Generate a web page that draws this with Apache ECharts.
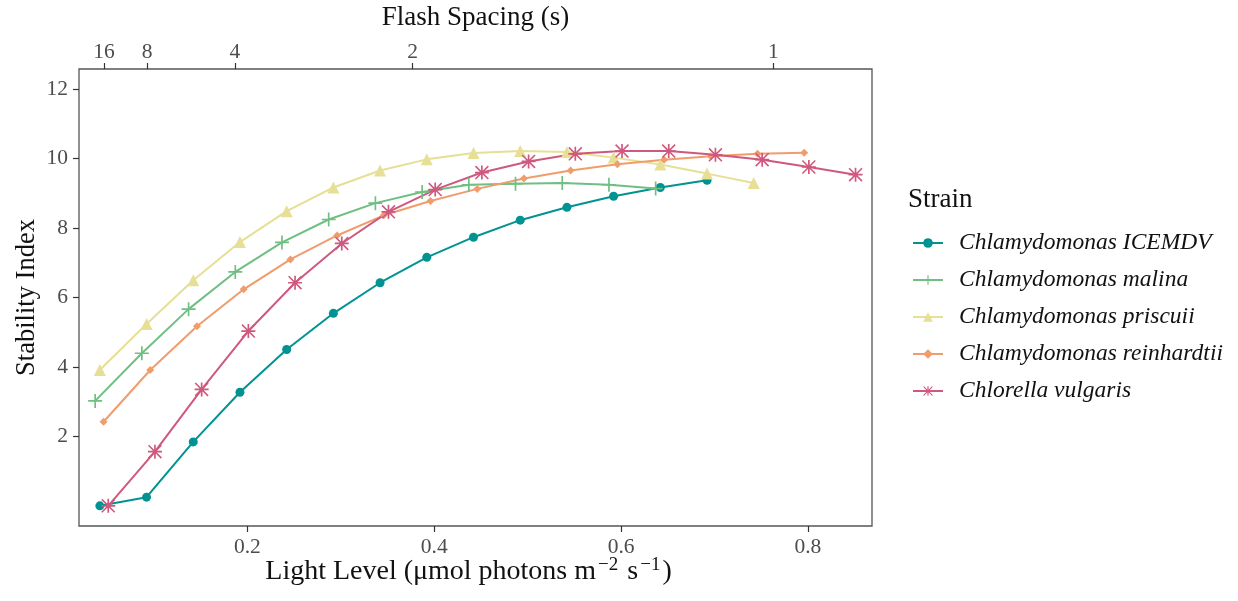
<!DOCTYPE html>
<html>
<head>
<meta charset="utf-8">
<script src="https://cdn.jsdelivr.net/npm/echarts@6/dist/echarts.min.js"></script>
<style>
  html, body { margin: 0; padding: 0; background: #fff; }
  #chart { width: 1238px; height: 601px; }
</style>
</head>
<body>
<div id="chart"></div>
<script>
// light levels (x) per strain, slightly dodged as in the original
const icemdvX = [0.042, 0.092, 0.142, 0.192, 0.242, 0.292, 0.342, 0.392, 0.442, 0.492, 0.542, 0.592, 0.642, 0.692];
const icemdvY = [0.01, 0.26, 1.85, 3.28, 4.51, 5.55, 6.43, 7.16, 7.74, 8.23, 8.60, 8.92, 9.17, 9.38];

const malinaX = [0.037, 0.087, 0.137, 0.187, 0.237, 0.287, 0.337, 0.387, 0.437, 0.487, 0.537, 0.587, 0.637];
const malinaY = [3.03, 4.40, 5.67, 6.74, 7.59, 8.25, 8.72, 9.04, 9.25, 9.28, 9.30, 9.25, 9.14];

const priscuiiX = [0.042, 0.092, 0.142, 0.192, 0.242, 0.292, 0.342, 0.392, 0.442, 0.492, 0.542, 0.592, 0.642, 0.692, 0.742];
const priscuiiY = [3.92, 5.24, 6.50, 7.60, 8.49, 9.17, 9.66, 9.98, 10.16, 10.22, 10.19, 10.03, 9.83, 9.57, 9.30];

const reinhardtiiX = [0.046, 0.096, 0.146, 0.196, 0.246, 0.296, 0.346, 0.396, 0.446, 0.496, 0.546, 0.596, 0.646, 0.696, 0.746, 0.796];
const reinhardtiiY = [2.43, 3.92, 5.18, 6.24, 7.10, 7.79, 8.37, 8.78, 9.13, 9.43, 9.66, 9.84, 9.97, 10.07, 10.14, 10.17];

const vulgarisX = [0.051, 0.101, 0.151, 0.201, 0.251, 0.301, 0.351, 0.401, 0.451, 0.501, 0.551, 0.601, 0.651, 0.701, 0.751, 0.801, 0.851];
const vulgarisY = [0.01, 1.57, 3.36, 5.04, 6.43, 7.56, 8.47, 9.11, 9.60, 9.92, 10.14, 10.22, 10.22, 10.11, 9.97, 9.76, 9.54];

// axis ticks
const xTicks = [0.2, 0.4, 0.6, 0.8];
const yTicks = [2, 4, 6, 8, 10, 12];
// flash spacing ticks on the top axis: light level where they sit, and label
const flashPos = [0.0465, 0.0925, 0.1865, 0.3768, 0.7631];
const flashLabels = ["16", "8", "4", "2", "1"];

const font = "Liberation Serif";
const plusPath = "path://M4.4,0h1.2v10h-1.2zM0,4.4h10v1.2h-10z";
const starPath = "path://M4.4,0h1.2v10h-1.2zM0,4.4h10v1.2h-10zM0.8,0L10,9.2L9.2,10L0,0.8zM9.2,0L10,0.8L0.8,10L0,9.2z";

function zip(xs, ys) {
  return xs.map((x, i) => [x, ys[i]]);
}

const seriesDefs = [
  { name: "Chlamydomonas ICEMDV", x: icemdvX, y: icemdvY, color: "#009392", symbol: "circle", size: 9 },
  { name: "Chlamydomonas malina", x: malinaX, y: malinaY, color: "#6fbf82", symbol: plusPath, size: 14 },
  { name: "Chlamydomonas priscuii", x: priscuiiX, y: priscuiiY, color: "#e6df95", symbol: "triangle", size: 12 },
  { name: "Chlamydomonas reinhardtii", x: reinhardtiiX, y: reinhardtiiY, color: "#f09c6c", symbol: "diamond", size: 8 },
  { name: "Chlorella vulgaris", x: vulgarisX, y: vulgarisY, color: "#cf597e", symbol: starPath, size: 14 },
];

const chart = echarts.init(document.getElementById("chart"));

const tickStyle = { color: "#333", width: 1.2 };

const option = {
  animation: false,
  backgroundColor: "#fff",
  textStyle: { fontFamily: font },
  grid: {
    left: 79, top: 69, right: 366, bottom: 75,
    outerBoundsMode: "none",
    containLabel: false,
    show: true, borderColor: "#555", borderWidth: 1.3, backgroundColor: "transparent",
  },
  legend: {
    orient: "vertical",
    left: 912,
    top: 231,
    padding: 0,
    itemWidth: 30,
    itemHeight: 12,
    itemGap: 13,
    textStyle: {
      fontFamily: font, fontSize: 23.5, lineHeight: 24, fontStyle: "italic", color: "#111",
      padding: [0, 0, 0, 11],
    },
    data: seriesDefs.map((s) => s.name),
  },
  graphic: [
    {
      type: "text", x: 908, y: 200,
      style: { text: "Strain", fontFamily: font, fontSize: 27, fill: "#111", verticalAlign: "middle" },
    },
  ],
  xAxis: [
    {
      type: "value",
      min: 0.0197,
      max: 0.8686,
      position: "bottom",
      name: "Light Level (\u03bcmol photons m{sup|\u22122} s{sup|\u22121})",
      nameLocation: "middle",
      nameGap: 30,
      nameMoveOverlap: false,
      nameTextStyle: {
        fontFamily: font, fontSize: 28, color: "#111", verticalAlign: "top", padding: [0, 14, 0, 0],
        rich: { sup: { fontFamily: font, fontSize: 19, color: "#111", padding: [0, 2, 12, 2] } },
      },
      axisLine: { show: false, onZero: false },
      splitLine: { show: false },
      axisTick: { show: true, inside: false, length: 6, lineStyle: tickStyle, customValues: xTicks },
      axisLabel: { fontSize: 21.5, color: "#4d4d4d", margin: 10, customValues: xTicks, formatter: (v) => v.toFixed(1) },
    },
    {
      type: "value",
      min: 0.0197,
      max: 0.8686,
      position: "top",
      name: "Flash Spacing (s)",
      nameLocation: "middle",
      nameGap: 38,
      nameMoveOverlap: false,
      nameTextStyle: { fontFamily: font, fontSize: 27, color: "#111" },
      axisLine: { show: false, onZero: false },
      splitLine: { show: false },
      axisTick: { show: true, inside: false, length: 6, lineStyle: tickStyle, customValues: flashPos },
      axisLabel: {
        fontSize: 21.5, color: "#4d4d4d", margin: 6, customValues: flashPos,
        formatter: (v) => {
          const i = flashPos.findIndex((p) => Math.abs(p - v) < 1e-6);
          return i >= 0 ? flashLabels[i] : "";
        },
      },
    },
  ],
  yAxis: {
    type: "value",
    min: -0.57,
    max: 12.58,
    name: "Stability Index",
    nameLocation: "middle",
    nameGap: 38,
    nameMoveOverlap: false,
    nameTextStyle: { fontFamily: font, fontSize: 26.5, color: "#111" },
    axisLine: { show: false, onZero: false },
    splitLine: { show: false },
    axisTick: { show: true, inside: false, length: 6, lineStyle: tickStyle, customValues: yTicks },
    axisLabel: { fontSize: 21.5, color: "#4d4d4d", margin: 11, customValues: yTicks },
  },
  series: seriesDefs.map((s) => ({
    name: s.name,
    type: "line",
    xAxisIndex: 0,
    data: zip(s.x, s.y),
    symbol: s.symbol,
    symbolSize: s.size,
    showAllSymbol: true,
    color: s.color,
    lineStyle: { width: 2, color: s.color },
    itemStyle: { color: s.color },
    emphasis: { disabled: true },
  })),
};

chart.setOption(option);
window.onresize = () => {
  chart.resize();
};
</script>
</body>
</html>
